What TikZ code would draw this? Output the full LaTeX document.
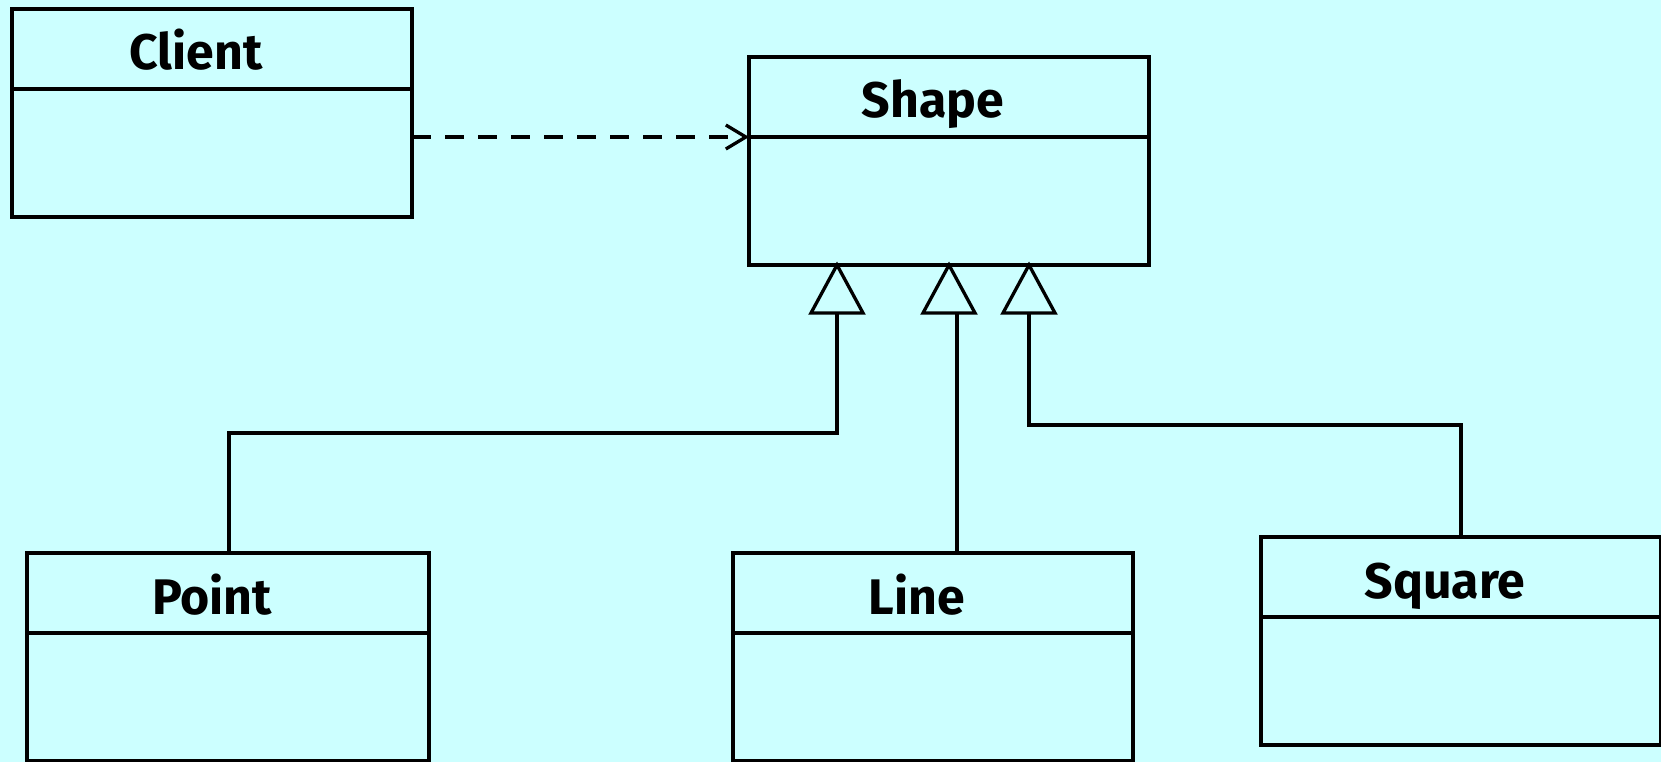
\documentclass[tikz,border=0pt]{standalone}
\usepackage{fontspec}
\setmainfont{Fira Sans}
\usetikzlibrary{arrows.meta,calc}
\definecolor{bg}{HTML}{CCFFFF}
\begin{document}
\begin{tikzpicture}[x=1pt,y=-1pt,
  cls/.style={draw=black, line width=3.3pt, minimum width=400pt, minimum height=208pt,
              anchor=north west, inner sep=0pt, outer sep=0pt},
  title/.style={font=\bfseries\fontsize{50}{60}\selectfont, inner sep=0pt, anchor=base},
  conn/.style={line width=3.3pt},
  gen/.style={line width=3.3pt, line join=miter, fill=bg},
  dep/.style={line width=3.3pt, dash pattern=on 19pt off 14pt,
              -{Straight Barb[length=20pt,width=24pt]}}]
\useasboundingbox (0,0) rectangle (1661,762);
\fill[bg] (0,0) rectangle (1661,762);

% classes
\node[cls] (client) at (12,9) {};
\node[cls] (shape) at (749,57) {};
\node[cls, minimum width=402pt] (point) at (27,553) {};
\node[cls] (line) at (733,553) {};
\node[cls] (square) at (1261,537) {};

\foreach \n/\t in {client/Client, shape/Shape, point/Point, line/Line, square/Square}{
  \draw[conn] ($(\n.north west)+(0,80)$) -- ($(\n.north east)+(0,80)$);
  \node[title] (\n-title) at ($(\n.north)+(-16,61)$) {\t};
}

% dependency
\coordinate (dv) at (0,137);
\draw[dep] (client.east |- dv) -- (shape.west |- dv);

% generalisation connectors
\coordinate (g1) at (837,313);
\coordinate (g2) at (957,313);
\coordinate (g3) at (1029,313);
\coordinate (p1) at (229,433);
\coordinate (s1) at (1461,425);
\draw[conn] (g1) |- (p1) -- (p1 |- point.north);
\draw[conn] (g2) -- (g2 |- line.north);
\draw[conn] (g3) |- (s1) -- (s1 |- square.north);

% hollow triangles
\draw[gen] (837,265) -- (863,313) -- (811,313) -- cycle;
\draw[gen] (949,265) -- (975,313) -- (923,313) -- cycle;
\draw[gen] (1029,265) -- (1055,313) -- (1003,313) -- cycle;
\end{tikzpicture}
\end{document}
